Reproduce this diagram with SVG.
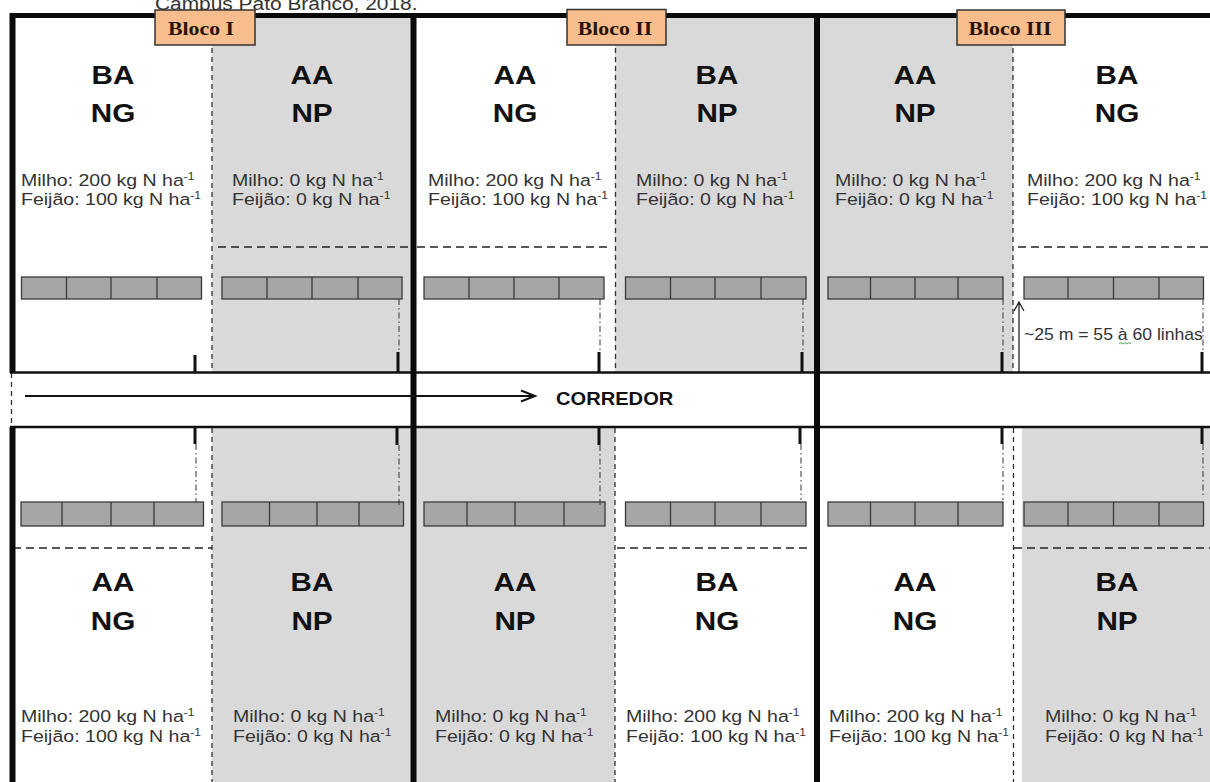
<svg xmlns="http://www.w3.org/2000/svg" width="1210" height="782" viewBox="0 0 1210 782">
<defs>
<style>
.bg{fill:#d9d9d9}
.big{font-family:"Liberation Sans",Arial,sans-serif;font-weight:bold;font-size:26.5px;fill:#111;text-anchor:middle}
.tr{font-family:"Liberation Sans",Arial,sans-serif;font-size:17px;fill:#333}
.sup{font-size:10.5px}
.blk{font-family:"Liberation Serif","Times New Roman",serif;font-weight:bold;font-size:18.5px;fill:#2a140a;text-anchor:middle}
.title{font-family:"Liberation Sans",Arial,sans-serif;font-size:19px;fill:#333}
.bar rect{fill:#a6a6a6;stroke:#3a3a3a;stroke-width:1.3}
.bar path{fill:none;stroke:#3a3a3a;stroke-width:1.3}
.thick{stroke:#0a0a0a;stroke-width:6;fill:none}
.thin{stroke:#111;stroke-width:2.5;fill:none}
.dv{stroke:#333;stroke-width:1.3;stroke-dasharray:5 4;fill:none}
.dh{stroke:#222;stroke-width:1.5;stroke-dasharray:8 5;fill:none}
.tick{stroke:#111;stroke-width:3;fill:none}
.dd{stroke:#333;stroke-width:1;stroke-dasharray:6 3 1.5 3;fill:none}
.arr{stroke:#111;stroke-width:2;fill:none}
.box{fill:#f8bd8d;stroke:#333;stroke-width:1.5}
.corr{font-family:"Liberation Sans",Arial,sans-serif;font-weight:bold;font-size:17.5px;fill:#111}
.meas{font-family:"Liberation Sans",Arial,sans-serif;font-size:16px;fill:#333}
</style>
</defs>
<rect x="0" y="0" width="1210" height="782" fill="#fff"/>
<text class="title" transform="translate(155,10) scale(1.1,1)">Campus Pato Branco, 2018.</text>

<!-- top row plots -->
<g id="plot-I-top-left">
<text class="big" transform="translate(113,83.5) scale(1.12,1)">BA</text>
<text class="big" transform="translate(113,121.5) scale(1.12,1)">NG</text>
<text class="tr" transform="translate(21,186) scale(1.15,1)"><tspan x="0" y="0">Milho: 200 kg N ha</tspan><tspan class="sup" dy="-6">-1</tspan><tspan x="0" y="19.5">Feijão: 100 kg N ha</tspan><tspan class="sup" dy="-6">-1</tspan></text>
<g class="bar"><rect x="21.5" y="277" width="180" height="22"/><path d="M66.5 277V299M111 277V299M157 277V299"/></g>
</g>
<g id="plot-I-top-right">
<rect class="bg" x="212" y="18" width="201" height="354"/>
<text class="big" transform="translate(312,83.5) scale(1.12,1)">AA</text>
<text class="big" transform="translate(312,121.5) scale(1.12,1)">NP</text>
<text class="tr" transform="translate(232,186) scale(1.15,1)"><tspan x="0" y="0">Milho: 0 kg N ha</tspan><tspan class="sup" dy="-6">-1</tspan><tspan x="0" y="19.5">Feijão: 0 kg N ha</tspan><tspan class="sup" dy="-6">-1</tspan></text>
<g class="bar"><rect x="222" y="277" width="180" height="22"/><path d="M267 277V299M312 277V299M358 277V299"/></g>
</g>
<g id="plot-II-top-left">
<text class="big" transform="translate(515,83.5) scale(1.12,1)">AA</text>
<text class="big" transform="translate(515,121.5) scale(1.12,1)">NG</text>
<text class="tr" transform="translate(428,186) scale(1.15,1)"><tspan x="0" y="0">Milho: 200 kg N ha</tspan><tspan class="sup" dy="-6">-1</tspan><tspan x="0" y="19.5">Feijão: 100 kg N ha</tspan><tspan class="sup" dy="-6">-1</tspan></text>
<g class="bar"><rect x="424" y="277" width="180" height="22"/><path d="M469 277V299M514 277V299M559 277V299"/></g>
</g>
<g id="plot-II-top-right">
<rect class="bg" x="615" y="18" width="202" height="354"/>
<text class="big" transform="translate(717,83.5) scale(1.12,1)">BA</text>
<text class="big" transform="translate(717,121.5) scale(1.12,1)">NP</text>
<text class="tr" transform="translate(636,186) scale(1.15,1)"><tspan x="0" y="0">Milho: 0 kg N ha</tspan><tspan class="sup" dy="-6">-1</tspan><tspan x="0" y="19.5">Feijão: 0 kg N ha</tspan><tspan class="sup" dy="-6">-1</tspan></text>
<g class="bar"><rect x="625.5" y="277" width="180.5" height="22"/><path d="M670.5 277V299M715 277V299M761 277V299"/></g>
</g>
<g id="plot-III-top-left">
<rect class="bg" x="817" y="18" width="196" height="354"/>
<text class="big" transform="translate(915,83.5) scale(1.12,1)">AA</text>
<text class="big" transform="translate(915,121.5) scale(1.12,1)">NP</text>
<text class="tr" transform="translate(835,186) scale(1.15,1)"><tspan x="0" y="0">Milho: 0 kg N ha</tspan><tspan class="sup" dy="-6">-1</tspan><tspan x="0" y="19.5">Feijão: 0 kg N ha</tspan><tspan class="sup" dy="-6">-1</tspan></text>
<g class="bar"><rect x="828" y="277" width="175" height="22"/><path d="M870.5 277V299M915 277V299M958 277V299"/></g>
</g>
<g id="plot-III-top-right">
<text class="big" transform="translate(1117,83.5) scale(1.12,1)">BA</text>
<text class="big" transform="translate(1117,121.5) scale(1.12,1)">NG</text>
<text class="tr" transform="translate(1027,186) scale(1.15,1)"><tspan x="0" y="0">Milho: 200 kg N ha</tspan><tspan class="sup" dy="-6">-1</tspan><tspan x="0" y="19.5">Feijão: 100 kg N ha</tspan><tspan class="sup" dy="-6">-1</tspan></text>
<g class="bar"><rect x="1024" y="277" width="179.5" height="22"/><path d="M1068 277V299M1113.5 277V299M1159 277V299"/></g>
</g>

<!-- bottom row plots -->
<g id="plot-I-bottom-left">
<text class="big" transform="translate(113,591) scale(1.12,1)">AA</text>
<text class="big" transform="translate(113,630) scale(1.12,1)">NG</text>
<text class="tr" transform="translate(21,722) scale(1.15,1)"><tspan x="0" y="0">Milho: 200 kg N ha</tspan><tspan class="sup" dy="-6">-1</tspan><tspan x="0" y="20.5">Feijão: 100 kg N ha</tspan><tspan class="sup" dy="-6">-1</tspan></text>
<g class="bar"><rect x="21" y="502" width="182.5" height="24"/><path d="M62 502V526M111 502V526M154 502V526"/></g>
</g>
<g id="plot-I-bottom-right">
<rect class="bg" x="212" y="428" width="201" height="354"/>
<text class="big" transform="translate(312,591) scale(1.12,1)">BA</text>
<text class="big" transform="translate(312,630) scale(1.12,1)">NP</text>
<text class="tr" transform="translate(233,722) scale(1.15,1)"><tspan x="0" y="0">Milho: 0 kg N ha</tspan><tspan class="sup" dy="-6">-1</tspan><tspan x="0" y="20.5">Feijão: 0 kg N ha</tspan><tspan class="sup" dy="-6">-1</tspan></text>
<g class="bar"><rect x="222" y="502" width="181.5" height="24"/><path d="M269.5 502V526M317 502V526M359 502V526"/></g>
</g>
<g id="plot-II-bottom-left">
<rect class="bg" x="413" y="428" width="202" height="354"/>
<text class="big" transform="translate(515,591) scale(1.12,1)">AA</text>
<text class="big" transform="translate(515,630) scale(1.12,1)">NP</text>
<text class="tr" transform="translate(435,722) scale(1.15,1)"><tspan x="0" y="0">Milho: 0 kg N ha</tspan><tspan class="sup" dy="-6">-1</tspan><tspan x="0" y="20.5">Feijão: 0 kg N ha</tspan><tspan class="sup" dy="-6">-1</tspan></text>
<g class="bar"><rect x="424" y="502" width="181" height="24"/><path d="M467 502V526M515 502V526M564 502V526"/></g>
</g>
<g id="plot-II-bottom-right">
<text class="big" transform="translate(717,591) scale(1.12,1)">BA</text>
<text class="big" transform="translate(717,630) scale(1.12,1)">NG</text>
<text class="tr" transform="translate(626,722) scale(1.15,1)"><tspan x="0" y="0">Milho: 200 kg N ha</tspan><tspan class="sup" dy="-6">-1</tspan><tspan x="0" y="20.5">Feijão: 100 kg N ha</tspan><tspan class="sup" dy="-6">-1</tspan></text>
<g class="bar"><rect x="625.5" y="502" width="180.5" height="24"/><path d="M670.5 502V526M715 502V526M761 502V526"/></g>
</g>
<g id="plot-III-bottom-left">
<text class="big" transform="translate(915,591) scale(1.12,1)">AA</text>
<text class="big" transform="translate(915,630) scale(1.12,1)">NG</text>
<text class="tr" transform="translate(829,722) scale(1.15,1)"><tspan x="0" y="0">Milho: 200 kg N ha</tspan><tspan class="sup" dy="-6">-1</tspan><tspan x="0" y="20.5">Feijão: 100 kg N ha</tspan><tspan class="sup" dy="-6">-1</tspan></text>
<g class="bar"><rect x="828" y="502" width="175" height="24"/><path d="M870.5 502V526M915 502V526M958 502V526"/></g>
</g>
<g id="plot-III-bottom-right">
<rect class="bg" x="1022" y="428" width="188" height="354"/>
<text class="big" transform="translate(1117,591) scale(1.12,1)">BA</text>
<text class="big" transform="translate(1117,630) scale(1.12,1)">NP</text>
<text class="tr" transform="translate(1045,722) scale(1.15,1)"><tspan x="0" y="0">Milho: 0 kg N ha</tspan><tspan class="sup" dy="-6">-1</tspan><tspan x="0" y="20.5">Feijão: 0 kg N ha</tspan><tspan class="sup" dy="-6">-1</tspan></text>
<g class="bar"><rect x="1024" y="502" width="179.5" height="24"/><path d="M1068 502V526M1113.5 502V526M1159 502V526"/></g>
</g>

<!-- frame -->
<g id="frame">
<path class="dv" d="M212 48V372M615.5 48V372M1013 48V372M212 428V782M615 428V782M1013.5 428V782M11.5 373V427"/>
<path class="dh" d="M218 247H413M417 247H612M1018 247H1210M13 548H212M617 548H812M1014 548H1210"/>
<path class="thin" d="M10 372.5H1210M10 427H1210"/>
<path class="thick" d="M12.5 13V373M12.5 427V782M413.5 13V782M817 13V782"/>
<path stroke="#0a0a0a" stroke-width="5" d="M10 15.5H1210"/>
</g>

<!-- connectors -->
<g id="connectors">
<path class="tick" d="M195 355V372M398 352V372M599 352V372M802 352V372M1002 352V372M1202 352V372"/>
<path class="dd" d="M399 299V352M600 299V352M803 299V352M1003 299V352M1203 299V352"/>
<path class="tick" d="M195 428V444M397 428V445M599 428V445M800 428V444M1002 428V444M1202 428V444"/>
<path class="dd" d="M196 444V502M399 445V508M600 445V508M801 444V500M1003 444V500M1203 444V497"/>
<path class="arr" d="M25 396H535M521 390.5L535 396L521 401.5"/>
<path stroke="#222" stroke-width="1.3" fill="none" d="M1019 372V302M1014 311L1019 302L1024 311"/>
<path stroke="#5aa55a" stroke-width="1" fill="none" d="M1119 344l2 -1.5l2 1.5l2 -1.5l2 1.5l2 -1.5l2 1.5"/>
</g>
<text class="corr" transform="translate(556,405) scale(1.15,1)">CORREDOR</text>
<text class="meas" transform="translate(1024,340) scale(1.1,1)">~25 m = 55 à 60 linhas</text>

<!-- block labels -->
<g id="bloco-I"><rect class="box" x="155" y="10" width="100" height="35"/><text class="blk" transform="translate(201,35) scale(1.18,1)">Bloco I</text></g>
<g id="bloco-II"><rect class="box" x="567" y="9.5" width="99" height="35.5"/><text class="blk" transform="translate(615,35) scale(1.18,1)">Bloco II</text></g>
<g id="bloco-III"><rect class="box" x="957" y="10" width="108" height="35"/><text class="blk" transform="translate(1010,35) scale(1.18,1)">Bloco III</text></g>
</svg>
